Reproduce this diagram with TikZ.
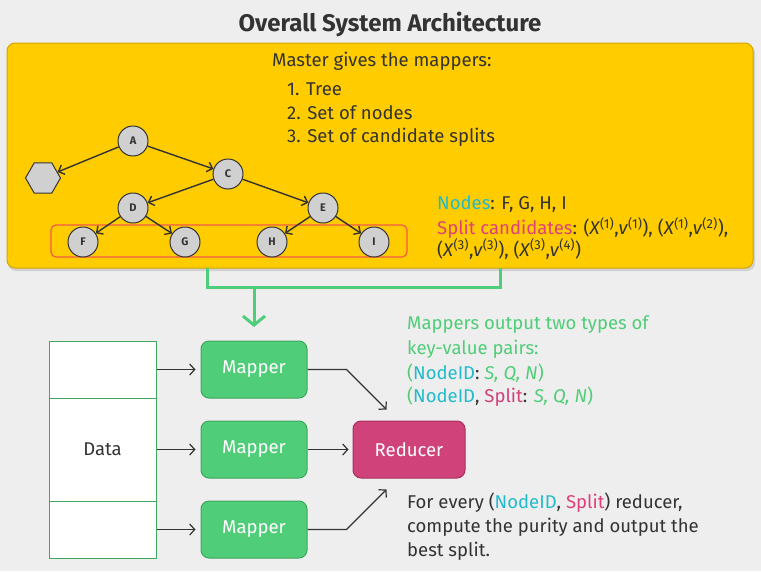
\documentclass[tikz,border=0pt]{standalone}
\usepackage{fontspec}
\setmainfont{Fira Sans}
\usetikzlibrary{arrows.meta,shapes.geometric}
\definecolor{bg}{HTML}{EEEEEE}
\definecolor{yel}{HTML}{FFCC00}
\definecolor{yelb}{HTML}{D4A600}
\definecolor{txt}{HTML}{333333}
\definecolor{cy}{HTML}{22BBCC}
\definecolor{pk}{HTML}{E0407A}
\definecolor{gr}{HTML}{50CD78}
\definecolor{grb}{HTML}{3DA85E}
\definecolor{redc}{HTML}{F55A4A}
\definecolor{rd}{HTML}{D0427A}
\definecolor{rdb}{HTML}{A8305E}
\definecolor{ngray}{HTML}{D0D0D0}
\tikzset{
  tnode/.style={circle, minimum size=30pt, inner sep=0pt, fill=ngray, draw=txt, line width=1pt, font=\bfseries\fontsize{11}{13}\selectfont, text=txt},
  tarrow/.style={draw=txt, line width=1.4pt, -{Straight Barb[length=5pt,width=10pt]}},
  txtl/.style={anchor=west, inner sep=0pt, font=\fontsize{18.5}{22}\selectfont, text=txt},
  databox/.style={draw=grb, fill=white, line width=1pt, minimum width=107pt, inner sep=0pt, font=\fontsize{18.5}{22}\selectfont, text=txt},
  mapbox/.style={draw=grb, fill=gr, line width=1pt, rounded corners=8pt, minimum width=106pt, minimum height=57pt, font=\fontsize{18.5}{22}\selectfont, text=white},
  redbox/.style={draw=rdb, fill=rd, line width=1pt, rounded corners=8pt, minimum width=112pt, minimum height=57pt, font=\fontsize{18.5}{22}\selectfont, text=white},
  flow/.style={draw=txt, line width=1.2pt, -{Straight Barb[length=5pt,width=11pt]}},
}
\begin{document}
\begin{tikzpicture}[x=1pt,y=-1pt]
\fill[bg] (0,0) rectangle (761,571);
\useasboundingbox (0,0) rectangle (761,571);
% title
\node[font=\bfseries\fontsize{24}{28}\selectfont, text=txt] (title) at (390,24) {Overall System Architecture};
% yellow box
\fill[black!18, rounded corners=8pt] (8,45) rectangle (755,271);
\draw[yelb, fill=yel, line width=1pt, rounded corners=8pt] (7,43) rectangle (753,268);
% master text
\node[txtl] (m0) at (272,61) {Master gives the mappers:};
\node[txtl] (m1t) at (287,89) {1. Tree};
\node[txtl] (m2t) at (287,113) {2. Set of nodes};
\node[txtl] (m3t) at (287,137) {3. Set of candidate splits};
% tree
\draw[redc, line width=1.2pt, rounded corners=5pt] (51,225) rectangle (407,257);
\node[tnode] (A) at (133,141) {A};
\node[regular polygon, regular polygon sides=6, minimum size=35pt, inner sep=0pt, fill=ngray, draw=txt, line width=1pt] (B) at (43,178) {};
\node[tnode] (C) at (228,174) {C};
\node[tnode] (D) at (133,208) {D};
\node[tnode] (E) at (323,208) {E};
\node[tnode] (F) at (83,242) {F};
\node[tnode] (G) at (185,242) {G};
\node[tnode] (H) at (272,242) {H};
\node[tnode] (I) at (374,242) {I};
\draw[tarrow] (A) -- (B);
\draw[tarrow] (A) -- (C);
\draw[tarrow] (C) -- (D);
\draw[tarrow] (C) -- (E);
\draw[tarrow] (D) -- (F);
\draw[tarrow] (D) -- (G);
\draw[tarrow] (E) -- (H);
\draw[tarrow] (E) -- (I);
% nodes / split text
\node[txtl] (n1) at (437,204) {\textcolor{cy}{Nodes}: F, G, H, I};
\node[txtl] (n2) at (437,228) {\textcolor{pk}{Split candidates}: (\textit{X}\textsuperscript{(1)},\textit{v}\textsuperscript{(1)}), (\textit{X}\textsuperscript{(1)},\textit{v}\textsuperscript{(2)}),};
\node[txtl] (n3) at (437,249) {(\textit{X}\textsuperscript{(3)},\textit{v}\textsuperscript{(3)}), (\textit{X}\textsuperscript{(3)},\textit{v}\textsuperscript{(4)})};
% green connector
\coordinate (gl) at (207,268);
\coordinate (gr2) at (500,268);
\coordinate (gj) at (254,287);
\coordinate (gend) at (254,327);
\draw[gr, line width=3pt] (gl) |- (gr2 |- gj) -- (gr2);
\draw[gr, line width=3pt, -{Straight Barb[length=9pt,width=22pt]}] (gj) -- (gend);
% data
\node[databox, minimum height=57pt] (d1) at (102.5,369.5) {};
\node[databox, minimum height=103pt] (d2) at (102.5,449.5) {Data};
\node[databox, minimum height=57pt] (d3) at (102.5,529.5) {};
% mappers
\node[mapbox] (p1) at (254,369.5) {Mapper};
\node[mapbox] (p2) at (254,449.5) {Mapper};
\node[mapbox] (p3) at (254,529.5) {Mapper};
\node[redbox] (r) at (409,449.5) {Reducer};
\draw[flow, shorten >=5pt] (d1.east) -- (p1.west);
\draw[flow, shorten >=5pt] (d2.east) -- (p2.west);
\draw[flow, shorten >=5pt] (d3.east) -- (p3.west);
\draw[flow, shorten >=4pt] (p2.east) -- (r.west);
\draw[flow] (p1.east) -- ++(39,0) -- ([xshift=34pt,yshift=11pt]r.north west);
\draw[flow] (p3.east) -- ++(39,0) -- ([xshift=34pt,yshift=-11pt]r.south west);
% mapper output text
\node[txtl, text=gr] (o1) at (407,325) {Mappers output two types of};
\node[txtl, text=gr] (o2) at (407,349) {key-value pairs:};
\node[txtl, text=gr] (o3) at (407,373) {(\textcolor{cy}{NodeID}\textcolor{txt}{:} \textit{S, Q, N})};
\node[txtl, text=gr] (o4) at (407,397) {(\textcolor{cy}{NodeID}\textcolor{txt}{,} \textcolor{rd}{Split}\textcolor{txt}{:} \textit{S, Q, N})};
% reducer text
\node[txtl] (f1) at (407,503) {For every (\textcolor{cy}{NodeID}, \textcolor{pk}{Split}) reducer,};
\node[txtl] (f2) at (407,527) {compute the purity and output the};
\node[txtl] (f3) at (407,551) {best split.};
\end{tikzpicture}
\end{document}
